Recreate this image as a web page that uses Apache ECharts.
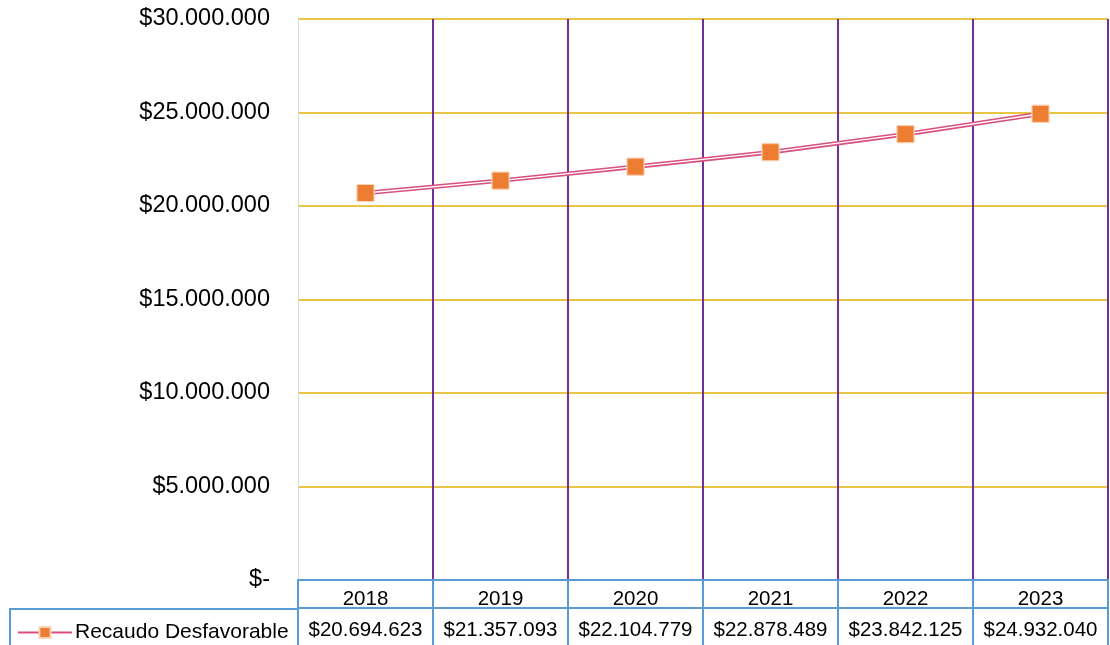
<!DOCTYPE html>
<html lang="es">
	<head>
		<meta charset="utf-8" />
		<title>Recaudo Desfavorable</title>
		<style>
			html, body { margin: 0; padding: 0; background: #fff; }
			#chart { width: 1110px; height: 645px; }
		</style>
	</head>
	<body>
		<div id="chart"></div>
		<script src="https://cdn.jsdelivr.net/npm/echarts@6/dist/echarts.min.js"></script>
		<script type="text/javascript">
			const years = ['2018', '2019', '2020', '2021', '2022', '2023'];
			const recaudo = [20694623, 21357093, 22104779, 22878489, 23842125, 24932040];
			const seriesName = 'Recaudo Desfavorable';

			const fmt = (v) => String(v).replace(/\B(?=(\d{3})+(?!\d))/g, '.');
			const money = (v) => (v === 0 ? '$-' : '$' + fmt(v));

			const blue = '#5b9bd5';
			const font = 'Liberation Sans, Arial, sans-serif';

			const chart = echarts.init(document.getElementById('chart'));
			chart.setOption({
				animation: false,
				grid: { left: 298, right: 2, top: 19, bottom: 65, containLabel: false },
				legend: {
					data: [seriesName],
					left: 12,
					top: 617,
					itemWidth: 54,
					itemHeight: 14,
					itemGap: 0,
					textStyle: { fontFamily: font, fontSize: 21, color: '#000', padding: [0, 0, 0, -2] },
				},
				xAxis: [
					{
						type: 'category',
						data: years,
						position: 'bottom',
						axisLine: { lineStyle: { color: blue, width: 2 } },
						axisTick: { show: true, length: 28, interval: 0, lineStyle: { color: blue, width: 2 } },
						axisLabel: { margin: 9, fontFamily: font, fontSize: 20.5, color: '#000', interval: 0 },
						splitLine: { show: true, showMinLine: false, interval: 0, lineStyle: { color: '#7030a0', width: 2 } },
					},
					{
						type: 'category',
						data: recaudo.map(money),
						position: 'bottom',
						offset: 28,
						axisLine: { lineStyle: { color: blue, width: 2 } },
						axisTick: { show: true, length: 40, interval: 0, lineStyle: { color: blue, width: 2 } },
						axisLabel: { margin: 12, fontFamily: font, fontSize: 20.5, color: '#000', interval: 0 },
						splitLine: { show: false },
					},
				],
				yAxis: {
					type: 'value',
					min: 0,
					max: 30000000,
					interval: 5000000,
					axisLine: { show: true, lineStyle: { color: '#d9d9d9', width: 1 } },
					axisTick: { show: false },
					axisLabel: { margin: 28, fontFamily: font, fontSize: 23.5, color: '#000', formatter: money, padding: [4, 0, 0, 0] },
					splitLine: { lineStyle: { color: '#e8c547', width: 2 } },
				},
				series: [
					{
						name: seriesName,
						type: 'line',
						data: recaudo,
						z: 3,
						symbol: 'rect',
						symbolSize: 17,
						itemStyle: { color: '#ed7d31', borderColor: '#fbd3b8', borderWidth: 1 },
						lineStyle: { color: '#d9507f', width: 4.5 },
					},
					{
						name: 'centro',
						type: 'line',
						data: recaudo,
						z: 4,
						symbol: 'none',
						silent: true,
						lineStyle: { color: '#ffffff', width: 1.4 },
					},
					{
						name: 'marcas',
						type: 'line',
						data: recaudo,
						z: 5,
						symbol: 'rect',
						symbolSize: 17,
						itemStyle: { color: '#ed7d31', borderColor: '#fbd3b8', borderWidth: 1 },
						lineStyle: { width: 0, opacity: 0 },
					},
				],
				graphic: [
					{
						type: 'polyline',
						shape: { points: [[10, 645], [10, 609], [298, 609]] },
						style: { stroke: blue, lineWidth: 2, fill: null },
						z: 10,
					},
				],
			});
		</script>
	</body>
</html>
